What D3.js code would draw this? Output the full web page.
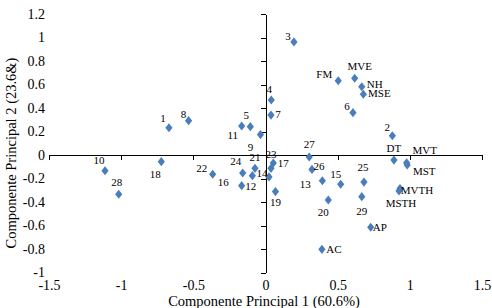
<!DOCTYPE html>
<html>
<head>
<meta charset="utf-8">
<script src="https://cdn.jsdelivr.net/npm/d3@7"></script>
<style>
    html, body { margin: 0; padding: 0; background: #fff; }
    text { font-family: "Liberation Serif", "Times New Roman", serif; fill: #000; }
</style>
</head>
<body>
<div id="chart"></div>
<script>
/* Data */
const pointNames = ['1', '2', '3', '4', '5', '6', '7', '8', '9', '10',
    '11', '12', '13', '14', '15', '16', '17', '18', '19', '20',
    '21', '22', '23', '24', '25', '26', '27', '28', '29',
    'FM', 'MVE', 'NH', 'MSE', 'DT', 'MVT', 'MST', 'MVTH', 'MSTH', 'AP', 'AC'];
const pc1Values = [-0.669, 0.879, 0.197, 0.040, -0.105, 0.606, 0.038, -0.533, -0.035, -1.112,
    -0.165, -0.165, 0.394, 0.024, 0.521, -0.091, 0.054, -0.722, 0.069, 0.435,
    -0.073, -0.366, 0.038, -0.158, 0.682, 0.322, 0.303, -1.017, 0.667,
    0.504, 0.618, 0.667, 0.678, 0.890, 0.978, 0.982, 0.932, 0.925, 0.729, 0.391];
const pc2Values = [0.232, 0.164, 0.962, 0.468, 0.241, 0.360, 0.340, 0.292, 0.174, -0.134,
    0.247, -0.261, -0.219, -0.187, -0.249, -0.176, -0.068, -0.057, -0.311, -0.383,
    -0.113, -0.164, -0.113, -0.153, -0.230, -0.123, -0.017, -0.334, -0.355,
    0.632, 0.653, 0.581, 0.517, -0.043, -0.066, -0.085, -0.285, -0.306, -0.615, -0.803];
const xTickValues = [-1.5, -1, -0.5, 0, 0.5, 1, 1.5];
const yTickValues = [-1, -0.8, -0.6, -0.4, -0.2, 0, 0.2, 0.4, 0.6, 0.8, 1, 1.2];
const xTitle = 'Componente Principal 1 (60.6%)';
const yTitle = 'Componente Principal 2 (23.6&)';

/* Where each label sits relative to its marker (px) */
const labelOffsets = {
    '1': [-6, -10], '2': [-5, -9], '3': [-6, -6], '4': [-2, -11], '5': [-4, -12],
    '6': [-6, -7], '7': [7, -1], '8': [-5, -7], '9': [-10, 12], '10': [-6, -11],
    '11': [-9, 9], '12': [9, 0], '13': [-17, 3], '14': [-7, -4], '15': [-5, -10],
    '16': [-29, 6], '17': [10, 0], '18': [-6, 12], '19': [0, 10], '20': [-5, 12],
    '21': [0, -11], '22': [-11, -6], '23': [0, -14], '24': [-7, -12], '25': [-1, -15],
    '26': [7, -3], '27': [0, -13], '28': [-2, -12], '29': [0, 14],
    'FM': [-14, -7], 'MVE': [5, -12], 'NH': [13, -3], 'MSE': [16, -1], 'DT': [0, -12],
    'MVT': [18, -13], 'MST': [17, 6], 'MVTH': [17, 2], 'MSTH': [2, 12], 'AP': [9, 0], 'AC': [12, 0]
};

const width = 492;
const height = 308;

const svg = d3.select('#chart')
    .append('svg')
    .attr('width', width)
    .attr('height', height);

const points = pointNames.map((name, i) => ({ name: name, x: pc1Values[i], y: pc2Values[i] }));

const xScale = d3.scaleLinear()
    .domain([-1.5, 1.5])
    .range([49, 482]);

const yScale = d3.scaleLinear()
    .domain([-1, 1.2])
    .range([272.5, 14]);

/* Vertical axis line through x = 0, ticks pointing left */
svg.append('g')
    .attr('transform', 'translate(' + Math.round(xScale(0)) + ',0)')
    .call(d3.axisLeft(yScale)
        .tickValues(yTickValues)
        .tickSize(5)
        .tickSizeOuter(0)
        .tickFormat(''))
    .call(g => g.selectAll('path, line').attr('stroke', '#000').attr('shape-rendering', 'crispEdges'));

/* Horizontal axis line through y = 0, ticks pointing down */
svg.append('g')
    .attr('transform', 'translate(0,' + Math.round(yScale(0)) + ')')
    .call(d3.axisBottom(xScale)
        .tickValues(xTickValues)
        .tickSize(5)
        .tickSizeOuter(0)
        .tickFormat(''))
    .call(g => g.selectAll('path, line').attr('stroke', '#000').attr('shape-rendering', 'crispEdges'));

/* Tick labels sit at the low edge of the plot */
svg.append('g')
    .attr('transform', 'translate(45,0)')
    .call(d3.axisLeft(yScale)
        .tickValues(yTickValues)
        .tickSize(0)
        .tickPadding(0)
        .tickFormat(d => String(d)))
    .call(g => g.select('.domain').remove())
    .selectAll('text')
    .style('font-family', '"Liberation Serif", "Times New Roman", serif')
    .style('font-size', '14px')
    .attr('fill', '#000');

svg.append('g')
    .attr('transform', 'translate(0,280)')
    .call(d3.axisBottom(xScale)
        .tickValues(xTickValues)
        .tickSize(0)
        .tickPadding(0)
        .tickFormat(d => String(d)))
    .call(g => g.select('.domain').remove())
    .selectAll('text')
    .style('font-family', '"Liberation Serif", "Times New Roman", serif')
    .style('font-size', '14px')
    .attr('fill', '#000');

/* Diamond marker a bit taller than wide */
const diamond = {
    draw(context, size) {
        const w = 3.6, h = 4.6;
        context.moveTo(0, -h);
        context.lineTo(w, 0);
        context.lineTo(0, h);
        context.lineTo(-w, 0);
        context.closePath();
    }
};

svg.append('g')
    .selectAll('path')
    .data(points)
    .join('path')
    .attr('transform', d => 'translate(' + xScale(d.x) + ',' + yScale(d.y) + ')')
    .attr('d', d3.symbol(diamond))
    .attr('fill', '#4A7EBB');

/* Point labels */
svg.append('g')
    .selectAll('text')
    .data(points)
    .join('text')
    .attr('x', d => xScale(d.x) + labelOffsets[d.name][0])
    .attr('y', d => yScale(d.y) + labelOffsets[d.name][1])
    .attr('text-anchor', 'middle')
    .attr('dominant-baseline', 'central')
    .style('font-size', '11px')
    .text(d => d.name);

/* x Label */
svg.append('text')
    .text(xTitle)
    .attr('x', 264)
    .attr('y', 306)
    .attr('text-anchor', 'middle')
    .style('font-size', '14.5px');

/* y Label */
svg.append('text')
    .text(yTitle)
    .attr('transform', 'translate(16,153) rotate(-90)')
    .attr('text-anchor', 'middle')
    .style('font-size', '14.5px');
</script>
</body>
</html>
